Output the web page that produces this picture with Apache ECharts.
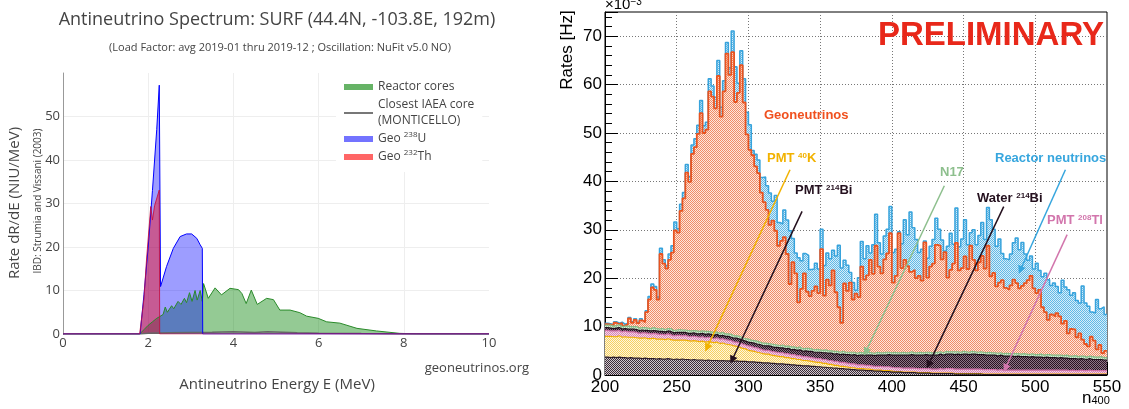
<!DOCTYPE html>
<html>
<head>
<meta charset="utf-8">
<title>Antineutrino spectrum / SNO+ rates</title>
<script src="https://cdn.jsdelivr.net/npm/echarts@6/dist/echarts.min.js"></script>
<style>
  html, body { margin: 0; padding: 0; background: #fff; }
  #chart { width: 1129px; height: 409px; }
</style>
</head>
<body>
<div id="chart"></div>
<script>
// ---- left panel: spectrum at SURF, [E (MeV), dR/dE] ----
const reactorCores = [[0,0],[1.8,0],[1.9,1.0],[2.0,2.0],[2.1,2.8],[2.2,3.6],[2.27,4.0],[2.35,4.5],[2.4,6.2],[2.45,5.0],[2.55,6.5],[2.6,5.8],[2.7,7.5],[2.77,6.8],[2.85,8.2],[2.9,7.2],[2.97,9.5],[3.03,7.5],[3.1,10.0],[3.15,7.8],[3.22,10.0],[3.27,7.5],[3.3,11.6],[3.41,8.2],[3.57,10.6],[3.72,9.0],[3.92,10.5],[4.12,10.2],[4.2,9.3],[4.3,7.0],[4.42,10.1],[4.56,6.8],[4.78,8.2],[4.94,7.9],[5.09,5.5],[5.33,5.5],[5.56,4.9],[5.72,4.1],[5.99,3.6],[6.19,2.8],[6.5,2.5],[6.9,1.3],[7.36,0.7],[7.9,0.15],[8.3,0.03],[10,0]];
const iaeaCore = [[0,0],[1.8,0],[2.0,0.15],[2.5,0.3],[3.0,0.35],[3.5,0.4],[4.0,0.5],[4.5,0.35],[4.8,0.5],[5.5,0.3],[6.0,0.2],[7.0,0.1],[8.0,0.02],[10,0]];
const geoU = [[0,0],[1.81,0],[1.9,9],[2.0,20],[2.1,33],[2.2,47],[2.26,57.2],[2.29,10.9],[2.43,15.5],[2.59,19.7],[2.75,22.4],[2.9,23.0],[3.02,23.0],[3.14,22.0],[3.22,20.5],[3.27,19.7],[3.28,0],[10,0]];
const geoTh = [[0,0],[1.8,0],[1.9,8],[1.96,17],[2.06,29.3],[2.1,26.2],[2.15,29.5],[2.26,33.1],[2.27,0],[10,0]];

// ---- right panel: stacked rates (x1e-3 Hz), 175 bins of width 2 in n400 ----
const binStart = 200, binWidth = 2, binEnd = 550;

const pmtBi214 = [
3.7,3.6,3.7,3.6,3.7, 3.6,3.6,3.5,3.6,3.5,
3.5,3.5,3.4,3.5,3.4, 3.4,3.4,3.3,3.4,3.3,
3.3,3.4,3.3,3.2,3.3, 3.2,3.3,3.2,3.2,3.1,
3.2,3.1,3.1,3.1,3.0, 3.1,3.0,3.0,3.0,2.9,
3.0,2.9,2.9,2.9,2.8, 2.9,2.8,2.8,2.8,2.7,
2.7,2.7,2.6,2.6,2.5, 2.5,2.5,2.4,2.4,2.3,
2.3,2.3,2.2,2.2,2.1, 2.1,2.0,2.0,1.9,1.9,
1.9,1.8,1.8,1.7,1.7, 1.6,1.6,1.5,1.5,1.4,
1.4,1.3,1.3,1.2,1.2, 1.1,1.1,1.0,1.0,1.0,
0.9,0.9,0.9,0.8,0.8, 0.8,0.7,0.7,0.7,0.6,
0.6,0.6,0.6,0.5,0.5, 0.5,0.5,0.5,0.4,0.4,
0.4,0.4,0.4,0.3,0.3, 0.3,0.3,0.3,0.3,0.3,
0.3,0.2,0.2,0.2,0.2, 0.2,0.2,0.2,0.2,0.2,
0.2,0.1,0.1,0.1,0.1, 0.1,0.1,0.1,0.1,0.1,
0.1,0.1,0.1,0.1,0.1, 0.1,0.1,0.1,0.1,0.1,
0.1,0.1,0.1,0.1,0.1, 0.1,0.1,0.1,0.1,0.1,
0.1,0.1,0.1,0.1,0.1, 0.1,0.1,0.1,0.1,0.1,
0.1,0.1,0.1,0.1,0.1
];
const pmtK40 = [
4.3,4.4,4.2,4.3,4.4, 4.2,4.3,4.3,4.2,4.3,
4.2,4.1,4.2,4.2,4.1, 4.1,4.2,4.1,4.0,4.1,
4.0,4.1,4.0,4.0,3.9, 4.0,3.9,4.0,3.9,3.9,
3.9,3.9,3.8,3.9,3.8, 3.8,3.8,3.7,3.8,3.6,
3.6,3.5,3.4,3.3,3.2, 3.0,2.9,2.7,2.6,2.4,
2.3,2.2,2.1,2.0,1.9, 1.8,1.8,1.7,1.6,1.6,
1.5,1.5,1.4,1.4,1.3, 1.3,1.2,1.2,1.1,1.1,
1.0,1.0,0.9,0.9,0.9, 0.8,0.8,0.7,0.7,0.6,
0.6,0.5,0.5,0.5,0.4, 0.4,0.4,0.3,0.3,0.3,
0.3,0.3,0.2,0.2,0.2, 0.2,0.2,0.2,0.2,0.2,
0.1,0.1,0.1,0.1,0.1, 0.1,0.1,0.1,0.1,0.1,
0.1,0.1,0.1,0.1,0.1, 0.1,0.1,0.1,0.1,0.1,
0.1,0.1,0.1,0.1,0.1, 0.1,0.1,0.1,0.1,0.1,
0.1,0.1,0.1,0.1,0.1, 0.1,0.1,0.1,0.1,0.1,
0.1,0.1,0.1,0.1,0.1, 0.1,0.1,0.1,0.1,0.1,
0.1,0.1,0.1,0.1,0.1, 0.1,0.1,0.1,0.1,0.1,
0.1,0.1,0.1,0.1,0.1, 0.1,0.1,0.1,0.1,0.1,
0.1,0.1,0.1,0.1,0.1
];
const pmtTl208 = [
1.2,1.1,1.2,1.2,1.1, 1.1,1.2,1.1,1.1,1.1,
1.1,1.0,1.1,1.0,1.1, 1.0,1.0,1.1,1.0,1.0,
1.0,1.0,1.0,0.9,1.0, 1.0,0.9,1.0,0.9,0.9,
0.9,0.9,0.9,0.9,0.9, 0.9,0.9,0.8,0.9,0.9,
0.9,0.9,0.9,0.9,0.8, 0.9,0.9,0.9,0.8,0.9,
0.9,0.8,0.9,0.8,0.8, 0.8,0.8,0.8,0.8,0.8,
0.8,0.8,0.8,0.8,0.8, 0.8,0.8,0.8,0.8,0.8,
0.8,0.8,0.8,0.8,0.8, 0.8,0.8,0.8,0.8,0.8,
0.8,0.8,0.8,0.8,0.8, 0.8,0.8,0.8,0.8,0.8,
0.8,0.8,0.8,0.8,0.8, 0.8,0.8,0.8,0.8,0.8,
0.8,0.8,0.8,0.8,0.8, 0.8,0.8,0.8,0.8,0.8,
0.8,0.8,0.8,0.8,0.8, 0.8,0.9,0.8,0.9,0.9,
0.9,0.9,0.9,0.9,0.9, 0.9,0.9,0.9,0.9,0.9,
0.9,0.9,0.9,0.9,0.9, 0.9,0.8,0.9,0.8,0.8,
0.8,0.8,0.8,0.8,0.8, 0.8,0.8,0.8,0.8,0.8,
0.8,0.8,0.8,0.8,0.8, 0.8,0.8,0.8,0.8,0.8,
0.8,0.7,0.8,0.7,0.7, 0.8,0.7,0.7,0.8,0.7,
0.7,0.7,0.7,0.7,0.7
];
const waterBi214 = [
0.6,0.6,0.5,0.6,0.6, 0.6,0.5,0.6,0.6,0.6,
0.6,0.6,0.6,0.5,0.6, 0.6,0.6,0.6,0.6,0.6,
0.6,0.6,0.7,0.6,0.6, 0.6,0.7,0.6,0.6,0.7,
0.7,0.6,0.7,0.7,0.7, 0.7,0.7,0.7,0.7,0.7,
0.7,0.7,0.8,0.7,0.8, 0.8,0.8,0.8,0.8,0.8,
0.8,0.9,0.8,0.9,0.9, 0.9,0.9,1.0,0.9,1.0,
1.0,1.0,1.0,1.1,1.0, 1.1,1.1,1.2,1.1,1.2,
1.2,1.3,1.2,1.3,1.3, 1.4,1.4,1.5,1.5,1.5,
1.6,1.6,1.7,1.7,1.8, 1.8,1.9,1.9,2.0,2.0,
2.1,2.1,2.2,2.2,2.3, 2.3,2.4,2.4,2.5,2.5,
2.6,2.6,2.6,2.7,2.7, 2.7,2.8,2.7,2.8,2.8,
2.8,2.9,2.8,2.9,2.9, 2.9,3.0,2.9,3.0,3.0,
3.0,3.0,3.1,3.0,3.1, 3.1,3.0,3.1,3.1,3.0,
3.0,3.1,3.0,3.0,3.0, 3.0,2.9,3.0,2.9,2.9,
2.9,2.9,2.8,2.9,2.8, 2.8,2.8,2.7,2.8,2.7,
2.7,2.7,2.6,2.7,2.6, 2.6,2.6,2.5,2.6,2.5,
2.5,2.5,2.4,2.5,2.4, 2.4,2.4,2.3,2.4,2.3,
2.3,2.3,2.3,2.2,2.2
];
const n17 = [
0.5,0.6,0.5,0.5,0.6, 0.5,0.5,0.6,0.5,0.5,
0.6,0.5,0.5,0.6,0.5, 0.5,0.6,0.5,0.5,0.6,
0.5,0.5,0.6,0.5,0.5, 0.6,0.5,0.5,0.6,0.5,
0.5,0.6,0.5,0.5,0.6, 0.5,0.5,0.6,0.5,0.5,
0.6,0.5,0.5,0.6,0.5, 0.5,0.6,0.5,0.5,0.6,
0.5,0.5,0.6,0.5,0.5, 0.6,0.5,0.5,0.6,0.5,
0.5,0.6,0.5,0.5,0.6, 0.5,0.5,0.6,0.5,0.5,
0.6,0.5,0.5,0.6,0.5, 0.5,0.6,0.5,0.5,0.6,
0.5,0.5,0.6,0.5,0.5, 0.6,0.5,0.5,0.6,0.5,
0.5,0.6,0.5,0.5,0.6, 0.5,0.5,0.6,0.5,0.5,
0.6,0.5,0.5,0.6,0.5, 0.5,0.6,0.5,0.5,0.6,
0.5,0.5,0.6,0.5,0.5, 0.6,0.5,0.5,0.6,0.5,
0.5,0.6,0.5,0.5,0.6, 0.5,0.5,0.6,0.5,0.5,
0.6,0.5,0.5,0.6,0.5, 0.5,0.6,0.5,0.5,0.6,
0.5,0.5,0.6,0.5,0.5, 0.6,0.5,0.5,0.6,0.5,
0.5,0.6,0.5,0.5,0.6, 0.5,0.5,0.6,0.5,0.5,
0.6,0.5,0.5,0.6,0.5, 0.5,0.6,0.5,0.5,0.6,
0.5,0.5,0.6,0.5,0.5
];
const geoNu = [
0.2,0.1,0.1,0.6,0.1, 0.7,0.1,0.4,1.7,0.8,
1.4,1.0,1.5,1.1,3.3, 6.0,8.3,8.0,6.1,15.4,
13.6,12.4,14.2,16.1,20.6, 20.0,24.6,27.2,32.6,30.8,
36.5,38.0,40.8,45.0,41.0, 41.7,49.7,48.7,46.2,53.2,
44.6,50.1,57.9,53.6,58.6, 48.3,50.3,56.3,48.8,42.3,
39.3,38.3,36.1,34.9,31.1, 29.1,27.6,24.6,25.6,23.6,
20.6,21.5,22.6,19.0,13.0, 17.5,15.4,9.2,12.4,15.5,
11.7,10.9,12.2,13.0,11.7, 20.9,11.2,14.7,13.5,16.7,
12.2,9.3,5.9,14.2,12.7, 14.4,10.9,12.3,11.4,17.8,
15.1,15.9,19.2,16.4,22.0, 17.8,16.4,19.2,20.4,24.7,
14.4,15.9,24.7,17.4,19.2, 17.9,16.5,17.1,15.4,15.8,
14.9,22.7,15.4,17.8,18.4, 22.2,21.9,19.3,20.5,15.3,
16.9,18.2,22.5,16.9,17.2, 19.7,17.2,21.8,19.0,16.9,
18.5,19.9,17.4,22.0,15.8, 16.5,13.8,14.5,15.2,13.5,
13.2,14.1,15.3,14.6,13.6, 14.0,14.7,15.4,16.1,13.7,
12.7,13.3,9.9,8.8,7.2, 8.4,8.0,8.7,8.0,6.6,
7.1,4.7,5.6,5.4,4.0, 4.7,3.4,2.7,2.0,4.1,
3.4,1.6,2.4,0.9,1.4
];
const reactorNu = [
0.2,0.2,0.2,0.2,0.2, 0.2,0.3,0.2,0.2,0.2,
0.2,0.2,0.3,0.2,0.3, 0.6,0.7,0.7,0.5,1.2,
0.8,0.6,1.2,1.4,1.7, 0.8,1.4,1.2,1.7,1.1,
1.8,1.7,1.8,2.6,1.5, 1.5,2.6,2.2,2.3,3.2,
1.9,2.2,2.3,1.5,4.4, 7.3,2.0,3.0,4.9,4.6,
5.2,1.0,2.5,2.7,3.1, 5.2,5.0,6.6,4.0,7.3,
4.8,3.5,5.6,7.0,11.0, 4.9,4.2,9.2,5.8,4.1,
7.5,5.5,4.5,4.8,5.0, 4.1,6.2,5.5,5.5,4.2,
7.5,12.8,11.3,4.8,5.3, 2.1,3.5,0.7,4.0,5.2,
4.3,6.1,1.4,6.0,6.5, 4.9,4.0,4.8,5.0,5.5,
6.2,5.5,0.3,5.0,8.3, 6.5,12.4,8.7,8.0,4.8,
6.5,0.3,4.0,4.2,5.0, 5.5,3.4,4.0,0.2,6.5,
7.6,4.0,7.2,4.9,6.0, 7.6,5.0,2.7,6.2,5.3,
5.5,6.9,6.0,7.9,11.7, 9.0,8.3,9.0,5.5,6.0,
6.2,6.5,7.6,9.3,8.0, 9.0,6.0,4.1,4.1,4.0,
6.2,4.0,6.3,8.0,8.3, 6.0,6.9,5.5,4.9,9.0,
7.0,9.0,7.0,7.6,7.6, 6.3,11.1,8.5,8.3,5.1,
5.7,10.3,7.5,9.6,7.5
];

// annotation arrows, [n400, rate] from -> to
const arrows = [
  { from: [329, 42.4], to: [271.1, 5.6], color: "#f2b200" },
  { from: [337.4, 33.8], to: [288.6, 3.1], color: "#24101e" },
  { from: [436.6, 39.1], to: [381.8, 4.8], color: "#8dbf8d" },
  { from: [478.0, 34.8], to: [425.5, 2.1], color: "#24101e" },
  { from: [521, 42.4], to: [489.6, 21.7], color: "#37a6de" },
  { from: [522.2, 29], to: [479.2, 1.4], color: "#d275ac" },
];

// small checker pattern like ROOT's hatched fill
function checker(a, b) {
  const c = document.createElement("canvas");
  c.width = 2;
  c.height = 2;
  const g = c.getContext("2d");
  g.fillStyle = b;
  g.fillRect(0, 0, 2, 2);
  g.fillStyle = a;
  g.fillRect(0, 0, 1, 1);
  g.fillRect(1, 1, 1, 1);
  return { image: c, repeat: "repeat" };
}

const layers = [
  ["PMT 214Bi", pmtBi214, "#2e1e2a", checker("#3c2c38", "#cfc8cd"), 1.2],
  ["PMT 40K", pmtK40, "#f0b000", checker("#f6d060", "#fef6dc"), 1.2],
  ["PMT 208Tl", pmtTl208, "#cf6fa6", checker("#d784b5", "#f4d8e8"), 1.2],
  ["Water 214Bi", waterBi214, "#24101e", checker("#2a1222", "#8c7686"), 1.2],
  ["N17", n17, "#86bb86", checker("#93c493", "#ddeedd"), 1.2],
  ["Geoneutrinos", geoNu, "#e9531f", checker("#f08c66", "#fde6dc"), 1.8],
  ["Reactor neutrinos", reactorNu, "#37a3dc", checker("#62b8e6", "#d6eef9"), 1.5],
];

// THStack style: each layer is drawn as the running sum, biggest first, smaller ones on top
let running = pmtBi214.map(() => 0);
const histSeries = layers.map(([name, vals, line, fill, w], i) => {
  running = running.map((s, k) => s + vals[k]);
  const sums = running.slice();
  return {
    name,
    type: "line",
    xAxisIndex: 1,
    yAxisIndex: 1,
    step: "end",
    symbol: "none",
    silent: true,
    z: 10 - i,
    data: sums.map((v, k) => [binStart + k * binWidth, v]).concat([[binEnd, sums[sums.length - 1]]]),
    lineStyle: { color: line, width: w },
    areaStyle: { color: fill, opacity: 1 },
  };
});

const leftFont = "Open Sans";
const rightFont = "Liberation Sans";

function text(x, y, t, size, color, o = {}) {
  const st = {
    text: t,
    fill: color,
    fontSize: size,
    fontFamily: o.family || leftFont,
    fontWeight: o.weight || "normal",
    align: o.align || "center",
    textAlign: o.align || "center",
    verticalAlign: "middle",
    textVerticalAlign: "middle",
  };
  if (o.rich) st.rich = o.rich;
  return { type: "text", x, y, rotation: o.rot || 0, silent: true, z: 50, style: st };
}

function supRich(color, size) {
  return {
    a: { fontSize: size, fontWeight: "bold", fontFamily: rightFont, fill: color },
    s: { fontSize: Math.round(size * 0.62), fontWeight: "bold", fontFamily: rightFont, fill: color, verticalAlign: "top" },
  };
}

const graphics = [
  text(277, 20, "Antineutrino Spectrum: SURF (44.4N, -103.8E, 192m)", 18, "#444"),
  text(280, 48, "(Load Factor: avg 2019-01 thru 2019-12 ; Oscillation: NuFit v5.0 NO)", 11, "#444"),
  text(15, 203, "Rate dR/dE (NIU/MeV)", 15, "#444", { rot: Math.PI / 2 }),
  text(38, 201, "IBD: Strumia and Vissani (2003)", 10, "#444", { rot: Math.PI / 2 }),
  text(277, 385, "Antineutrino Energy E (MeV)", 15, "#444"),
  text(529, 368, "geoneutrinos.org", 13, "#444", { align: "right" }),

  text(567, 50, "Rates [Hz]", 17, "#000", { rot: Math.PI / 2, family: rightFont }),
  text(605, 5, "{a|×10}{s|−3}", 15, "#000", {
    align: "left",
    family: rightFont,
    rich: {
      a: { fontSize: 15, fontFamily: rightFont, fill: "#000" },
      s: { fontSize: 10, fontFamily: rightFont, fill: "#000", verticalAlign: "top" },
    },
  }),
  text(1082, 398, "{a|n}{s|400}", 17, "#000", {
    align: "left",
    family: rightFont,
    rich: {
      a: { fontSize: 17, fontFamily: rightFont, fill: "#000" },
      s: { fontSize: 11, fontFamily: rightFont, fill: "#000", verticalAlign: "bottom" },
    },
  }),
  text(991, 36, "PRELIMINARY", 33, "#e8281a", { weight: "bold", family: rightFont }),
  text(764, 115, "Geoneutrinos", 13, "#f0501e", { align: "left", weight: "bold", family: rightFont }),
  text(767, 158, "{a|PMT }{s|40}{a|K}", 13, "#f2b200", { align: "left", family: rightFont, rich: supRich("#f2b200", 13) }),
  text(795, 190, "{a|PMT }{s|214}{a|Bi}", 13, "#24101e", { align: "left", family: rightFont, rich: supRich("#24101e", 13) }),
  text(940, 172, "N17", 13, "#8dbf8d", { align: "left", weight: "bold", family: rightFont }),
  text(977, 198, "{a|Water }{s|214}{a|Bi}", 13, "#24101e", { align: "left", family: rightFont, rich: supRich("#24101e", 13) }),
  text(995, 158, "Reactor neutrinos", 13, "#37a6de", { align: "left", weight: "bold", family: rightFont }),
  text(1047, 220, "{a|PMT }{s|208}{a|Tl}", 13, "#d275ac", { align: "left", family: rightFont, rich: supRich("#d275ac", 13) }),
];

const bad = [pmtBi214, pmtK40, pmtTl208, waterBi214, n17, geoNu, reactorNu].map((a) => a.length);
if (bad.some((l) => l !== 175)) graphics.push(text(800, 300, "len " + bad.join(","), 14, "#f00"));

const chart = echarts.init(document.getElementById("chart"));

const option = {
  animation: false,
  backgroundColor: "#fff",
  grid: [
    { left: 63, top: 73, width: 426, height: 261 },
    { left: 605, top: 12, width: 502, height: 363, show: true, borderColor: "#000", borderWidth: 1 },
  ],
  legend: {
    orient: "vertical",
    left: 336,
    top: 73,
    backgroundColor: "#fff",
    padding: [6, 8, 7, 7],
    itemWidth: 29,
    itemHeight: 6,
    itemGap: 2,
    selectedMode: false,
    textStyle: {
      color: "#444",
      fontSize: 12,
      fontFamily: leftFont,
      lineHeight: 16,
      rich: { sup: { fontSize: 8, color: "#444", fontFamily: leftFont, verticalAlign: "top", lineHeight: 16 } },
    },
    formatter: (name) =>
      ({
        "Closest IAEA core": "Closest IAEA core\n(MONTICELLO)",
        "Geo 238U": "Geo {sup|238}U",
        "Geo 232Th": "Geo {sup|232}Th",
      })[name] || name,
    data: [
      { name: "Reactor cores", icon: "rect", itemStyle: { color: "rgba(0,128,0,0.6)" } },
      { name: "Closest IAEA core", itemStyle: { color: "transparent", opacity: 0 }, lineStyle: { color: "#777", width: 2 } },
      { name: "Geo 238U", icon: "rect", itemStyle: { color: "rgba(0,0,255,0.55)" } },
      { name: "Geo 232Th", icon: "rect", itemStyle: { color: "rgba(255,0,0,0.6)" } },
    ],
  },
  xAxis: [
    {
      gridIndex: 0,
      type: "value",
      min: 0,
      max: 10,
      interval: 2,
      axisLine: { show: false },
      axisTick: { show: false },
      axisLabel: { color: "#444", fontSize: 13, fontFamily: leftFont, margin: 3 },
      splitLine: { show: true, showMinLine: false, showMaxLine: false, lineStyle: { color: "#eee" } },
    },
    {
      gridIndex: 1,
      type: "value",
      min: 200,
      max: 550,
      interval: 50,
      axisLine: { show: true, onZero: false, lineStyle: { color: "#000" } },
      axisTick: { inside: true, length: 13, lineStyle: { color: "#000" } },
      minorTick: { show: true, splitNumber: 5, length: 7, lineStyle: { color: "#000" } },
      axisLabel: { color: "#000", fontSize: 17, fontFamily: rightFont, margin: 4 },
      splitLine: { show: true, showMinLine: false, showMaxLine: false, lineStyle: { color: "#777", type: [1, 2] } },
    },
  ],
  yAxis: [
    {
      gridIndex: 0,
      type: "value",
      min: 0,
      max: 60,
      interval: 10,
      axisLine: { show: true, lineStyle: { color: "#999" } },
      axisTick: { show: false },
      axisLabel: { color: "#444", fontSize: 13, fontFamily: leftFont, margin: 3, showMaxLabel: false },
      splitLine: { show: true, showMinLine: false, showMaxLine: false, lineStyle: { color: "#eee" } },
    },
    {
      gridIndex: 1,
      type: "value",
      min: 0,
      max: 75,
      interval: 10,
      axisLine: { show: true, lineStyle: { color: "#000" } },
      axisTick: { inside: true, length: 13, lineStyle: { color: "#000" } },
      minorTick: { show: true, splitNumber: 5, length: 7, lineStyle: { color: "#000" } },
      axisLabel: { color: "#000", fontSize: 17, fontFamily: rightFont, margin: 3, showMaxLabel: false },
      splitLine: { show: true, showMinLine: false, showMaxLine: false, lineStyle: { color: "#777", type: [1, 2] } },
    },
  ],
  series: [
    {
      name: "Reactor cores",
      type: "line",
      xAxisIndex: 0,
      yAxisIndex: 0,
      data: reactorCores,
      symbol: "none",
      lineStyle: { color: "#2a8a2a", width: 1 },
      areaStyle: { color: "rgba(0,128,0,0.6)" },
    },
    {
      name: "Closest IAEA core",
      type: "line",
      xAxisIndex: 0,
      yAxisIndex: 0,
      data: iaeaCore,
      symbol: "none",
      lineStyle: { color: "#666", width: 1.5 },
    },
    {
      name: "Geo 238U",
      type: "line",
      xAxisIndex: 0,
      yAxisIndex: 0,
      data: geoU,
      symbol: "none",
      lineStyle: { color: "#0000ff", width: 1 },
      areaStyle: { color: "rgba(0,0,255,0.55)" },
    },
    {
      name: "Geo 232Th",
      type: "line",
      xAxisIndex: 0,
      yAxisIndex: 0,
      data: geoTh,
      symbol: "none",
      lineStyle: { color: "rgba(200,10,60,0.85)", width: 1 },
      areaStyle: { color: "rgba(255,0,0,0.6)" },
    },
    ...histSeries,
    {
      name: "arrows",
      type: "line",
      xAxisIndex: 1,
      yAxisIndex: 1,
      data: [],
      z: 30,
      silent: true,
      markLine: {
        z: 40,
        silent: true,
        animation: false,
        symbol: ["none", "triangle"],
        symbolSize: 8,
        label: { show: false },
        data: arrows.map((a) => [
          { coord: a.from, lineStyle: { color: a.color, width: 1.5, type: "solid" }, itemStyle: { color: a.color } },
          { coord: a.to, lineStyle: { color: a.color, width: 1.5, type: "solid" }, itemStyle: { color: a.color } },
        ]),
      },
    },
  ],
  graphic: graphics,
};

chart.setOption(option);
</script>
</body>
</html>
